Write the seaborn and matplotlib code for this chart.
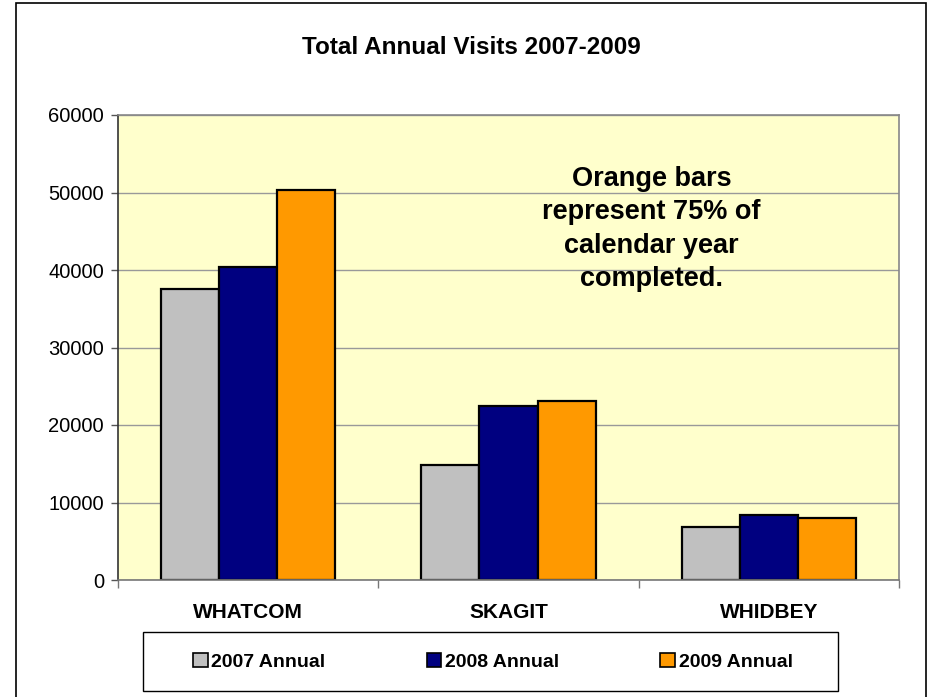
import numpy as np
import pandas as pd
import seaborn as sns
import matplotlib.pyplot as plt
from matplotlib.patches import Rectangle

# data
sites = ["WHATCOM", "SKAGIT", "WHIDBEY"]
years = ["2007 Annual", "2008 Annual", "2009 Annual"]
visits_2007 = [37600, 14800, 6850]
visits_2008 = [40400, 22500, 8370]
visits_2009 = [50300, 23100, 8060]
colors = ["#C0C0C0", "#000080", "#FF9900"]

rows = []
for yr, vals in zip(years, [visits_2007, visits_2008, visits_2009]):
    for s, v in zip(sites, vals):
        rows.append({"site": s, "year": yr, "visits": v})
df = pd.DataFrame(rows)

sns.set_style("white")
plt.rcParams['font.family'] = ['Liberation Sans', 'DejaVu Sans']
plt.rcParams['text.color'] = 'black'
plt.rcParams['xtick.color'] = 'black'
plt.rcParams['ytick.color'] = 'black'

W, H = 932, 697
fig = plt.figure(figsize=(W / 100, H / 100), dpi=100)
ax = fig.add_axes([118 / W, 1 - 580 / H, (899 - 118) / W, (580 - 115) / H])
ax.set_facecolor("#FFFFCC")

sns.barplot(data=df, x="site", y="visits", hue="year", order=sites, hue_order=years,
            palette=colors, edgecolor="black", linewidth=1.6, width=0.67, gap=0,
            saturation=1, ax=ax, legend=False)

ax.set_ylim(0, 60000)
ax.set_xlim(-0.5, 2.5)
ax.set_yticks(np.arange(0, 60001, 10000))
ax.yaxis.grid(True, color="#999999", linewidth=1)
ax.set_axisbelow(True)
ax.tick_params(axis="y", left=True, length=5, width=1, color="#555555", labelsize=14.5,
               labelcolor="black", pad=5)
ax.tick_params(axis="x", bottom=False, labelsize=15, labelcolor="black", pad=13)
ax.set_xticks(range(3))
ax.set_xticklabels(sites, fontweight="bold")
ax.set_xticks([-0.5, 0.5, 1.5, 2.5], minor=True)
ax.tick_params(axis="x", which="minor", bottom=True, length=6, width=1, color="#777777")
ax.set_xlabel("")
ax.set_ylabel("")
for side in ["top", "right"]:
    ax.spines[side].set_color("#888888")
ax.spines["left"].set_color("#333333")
ax.spines["bottom"].set_color("#777777")
for sp in ax.spines.values():
    sp.set_linewidth(1.2)

fig.text(471 / W, 1 - 48 / H, "Total Annual Visits 2007-2009", ha="center", va="center",
         fontsize=17.5, fontweight="bold", color="black")

ax.text(1.55, 45300, "Orange bars\nrepresent 75% of\ncalendar year\ncompleted.",
        ha="center", va="center", fontsize=19.5, fontweight="bold", linespacing=1.36,
        color="black")

# legend box
fig.patches.append(Rectangle((143 / W, 1 - 691 / H), (838 - 143) / W, 59 / H,
                             transform=fig.transFigure, fill=False, edgecolor="black",
                             linewidth=1))
handles = [Rectangle((0, 0), 1, 1, facecolor=c, edgecolor="black", linewidth=1.2) for c in colors]
leg = fig.legend(handles, years, loc="center left", ncol=3,
                 bbox_to_anchor=(193 / W, 1 - 662 / H), frameon=False,
                 prop={"weight": "bold", "size": 14}, handlelength=0.75, handleheight=0.75,
                 handletextpad=0.2, columnspacing=5.2, borderaxespad=0, borderpad=0)

# outer chart frame (bottom edge runs off the image)
fig.patches.append(Rectangle((16 / W, -0.01), (926 - 16) / W, 1.01 - 3 / H,
                             transform=fig.transFigure, fill=False, edgecolor="black",
                             linewidth=1.2))

fig.savefig("out.png", dpi=100)
